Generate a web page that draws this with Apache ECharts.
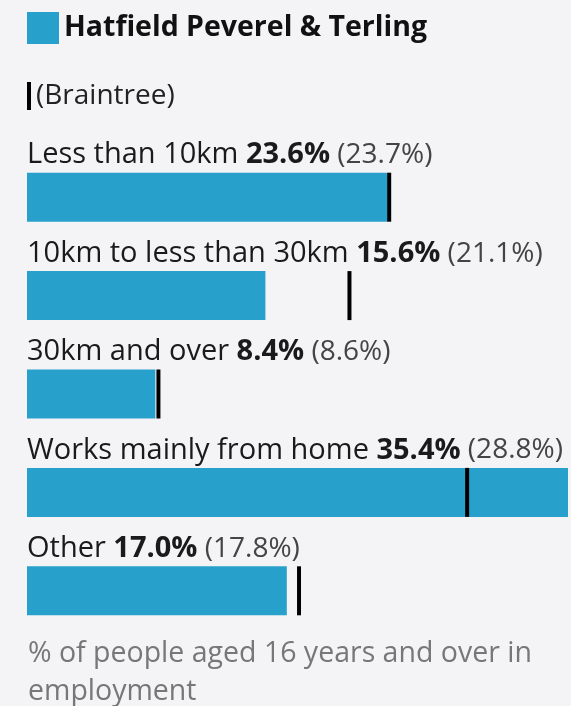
<!DOCTYPE html>
<html>
<head>
<meta charset="utf-8">
<script src="https://cdn.jsdelivr.net/npm/echarts@6/dist/echarts.min.js"></script>
<style>
  html, body { margin: 0; padding: 0; background: #f4f4f7; }
  #chart { width: 571px; height: 706px; }
</style>
</head>
<body>
<div id="chart"></div>
<script>
const categories = ['Less than 10km', '10km to less than 30km', '30km and over', 'Works mainly from home', 'Other']
const areaValues = [23.6, 15.6, 8.4, 35.4, 17.0]
const braintreeValues = [23.7, 21.1, 8.6, 28.8, 17.8]

const chart = echarts.init(document.getElementById('chart'))

const options = {
  backgroundColor: '#f4f4f7',
  textStyle: { fontFamily: 'Open Sans' },
  legend: [
    {
      data: ['Hatfield Peverel & Terling'],
      left: 22,
      top: 7,
      icon: 'rect',
      itemWidth: 32,
      itemHeight: 32,
      itemGap: 8,
      selectedMode: false,
      textStyle: { fontSize: 28.5, fontWeight: 'bold', color: '#111', fontFamily: 'Open Sans' }
    },
    {
      data: ['Braintree'],
      left: 22,
      top: 77,
      icon: 'rect',
      itemWidth: 4,
      itemHeight: 28,
      itemGap: 10,
      selectedMode: false,
      formatter: '({name})',
      textStyle: { fontSize: 28, color: '#222', fontFamily: 'Open Sans' }
    }
  ],
  title: {
    text: '% of people aged 16 years and over in\nemployment',
    left: 23,
    top: 630,
    textStyle: { fontSize: 28.5, fontWeight: 'normal', color: '#777', lineHeight: 38, fontFamily: 'Open Sans' }
  },
  grid: { left: 27, right: 3, top: 148, height: 492 },
  xAxis: {
    type: 'value',
    min: 0,
    max: 35.4,
    show: false
  },
  yAxis: {
    type: 'category',
    data: categories,
    inverse: true,
    show: false
  },
  series: [
    {
      name: 'Hatfield Peverel & Terling',
      type: 'bar',
      data: areaValues,
      barWidth: 49,
      itemStyle: { color: '#27a0cc' },
      label: {
        show: true,
        position: [0, -3],
        verticalAlign: 'bottom',
        align: 'left',
        formatter: (p) => '{a|' + categories[p.dataIndex] + ' }{b|' + p.value.toFixed(1) + '%}{c| (' + braintreeValues[p.dataIndex].toFixed(1) + '%)}',
        rich: {
          a: { fontSize: 29, color: '#1a1a1a', fontFamily: 'Open Sans' },
          b: { fontSize: 29, fontWeight: 'bold', color: '#1a1a1a', fontFamily: 'Open Sans' },
          c: { fontSize: 28, color: '#444', fontFamily: 'Open Sans' }
        }
      },
      z: 2
    },
    {
      name: 'Braintree',
      type: 'scatter',
      data: braintreeValues,
      symbol: 'rect',
      symbolSize: [4, 49],
      itemStyle: { color: '#000', opacity: 1 },
      z: 3
    }
  ]
}

chart.setOption(options)
</script>
</body>
</html>
